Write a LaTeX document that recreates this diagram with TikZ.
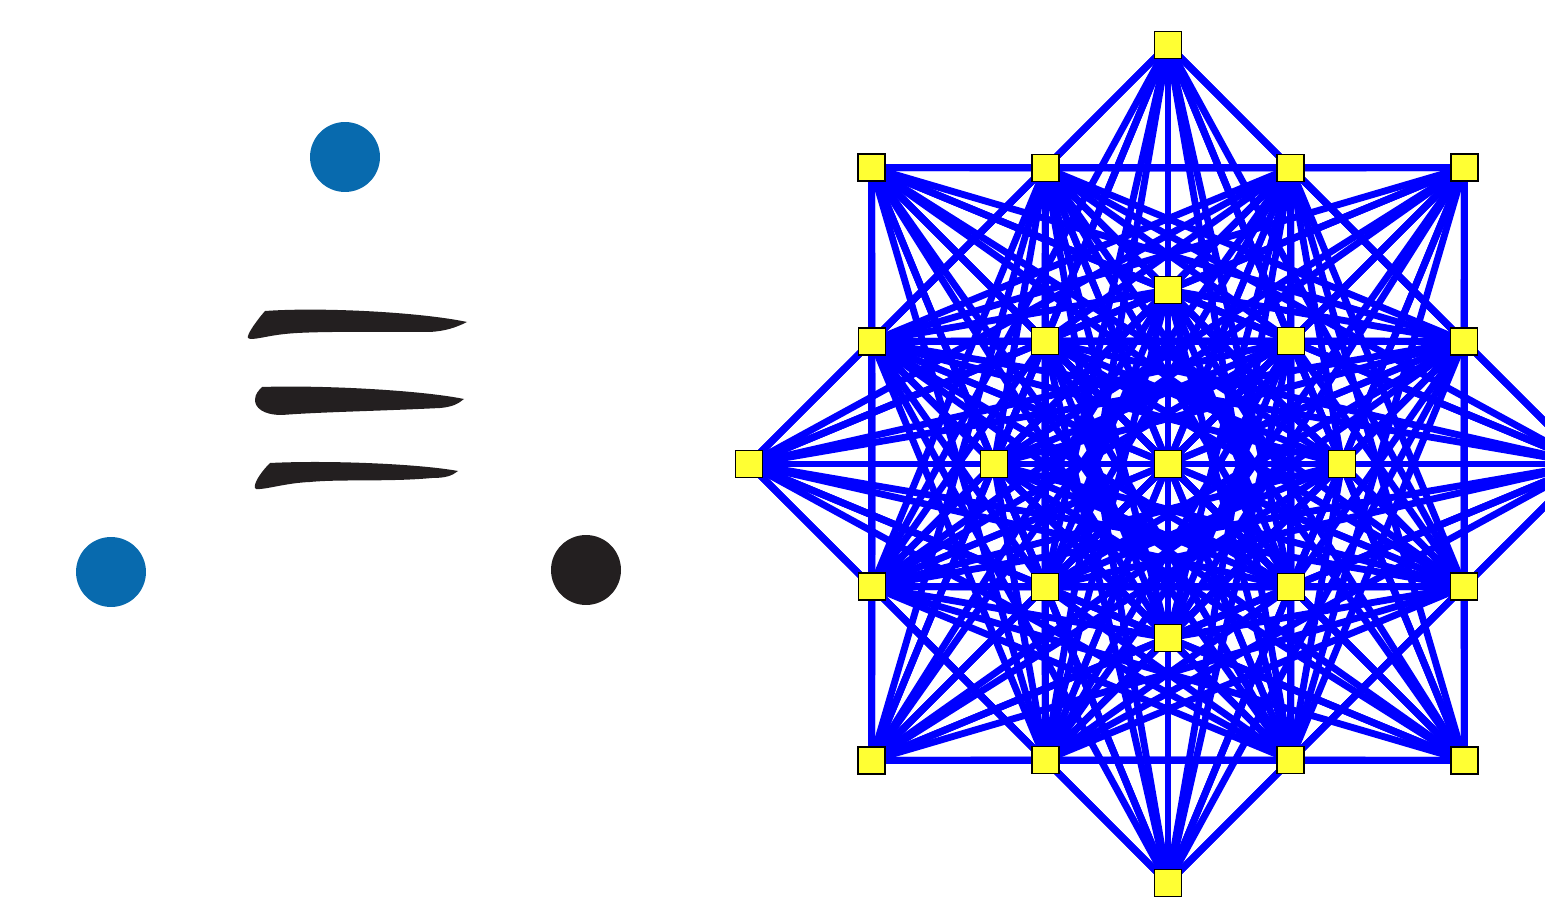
\documentclass[tikz,border=0pt]{standalone}
\usepackage{xcolor}
\usetikzlibrary{backgrounds}
\definecolor{dotblue}{RGB}{8,106,174}
\definecolor{inkblack}{RGB}{35,31,32}
\definecolor{vtxyellow}{RGB}{255,255,51}
\tikzset{
  vtx/.style={rectangle, draw=black, fill=vtxyellow, line width=1pt,
              minimum size=5.4mm, inner sep=0pt},
  link/.style={draw=blue, line width=3.9pt},
  spot/.style={circle, fill=#1, minimum size=14mm, inner sep=0pt},
  brush/.style={fill=inkblack},
}
\def\vlist{c,a0,a1,a2,a3,a4,a5,a6,a7,b0,b1,b2,b3,b4,b5,b6,b7,o0,o1,o2,o3,o4,o5,o6,o7}

\begin{document}
\begin{tikzpicture}[x=0.02cm, y=0.02cm]
  \useasboundingbox (0,0) rectangle (1545,897);
  % three dots
  \node[spot=dotblue]  (topdot)   at (345,740) {};
  \node[spot=dotblue]  (leftdot)  at (111,325) {};
  \node[spot=inkblack] (rightdot) at (586,327) {};
  % brush strokes
  \fill[brush] (265,586) .. controls (320,590) and (420,585) .. (467,575)
    .. controls (455,569) and (445,566) .. (430,565)
    .. controls (380,565) and (310,566) .. (285,563)
    .. controls (265,561) and (252,556) .. (248,559)
    .. controls (246,562) and (258,578) .. cycle;
  \fill[brush] (262,510) .. controls (320,512) and (420,507) .. (464,498)
    .. controls (458,493) and (452,490) .. (440,489)
    .. controls (380,486) and (320,485) .. (282,482)
    .. controls (262,482) and (255,490) .. (255,497)
    .. controls (255,503) and (259,507) .. cycle;
  \fill[brush] (270,434) .. controls (330,437) and (420,433) .. (458,426)
    .. controls (452,421) and (445,419) .. (432,419)
    .. controls (390,415) and (340,418) .. (310,415)
    .. controls (285,414) and (265,407) .. (256,408)
    .. controls (252,410) and (258,422) .. cycle;
  % graph vertices
  \node[vtx] (c) at (1168,433) {};
  \foreach \k in {0,...,7} {
    \node[vtx] (a\k) at ([shift={(45*\k:174)}]c.center) {};
    \node[vtx] (b\k) at ([shift={(22.5+45*\k:320.5)}]c.center) {};
    \node[vtx] (o\k) at ([shift={(45*\k:419)}]c.center) {};
  }
  % every pair joined, except neighbours on the outer ring
  \begin{pgfonlayer}{background}
    \foreach \u [count=\i] in \vlist {
      \foreach \w [count=\j] in \vlist {
        \ifnum\j>\i
          \pgfmathtruncatemacro\gap{\j-\i}
          \pgfmathtruncatemacro\rim{(\i>17)*((\gap==1)+(\gap==7))}
          \ifnum\rim=0 \draw[link] (\u.center) -- (\w.center); \fi
        \fi
      }
    }
  \end{pgfonlayer}
\end{tikzpicture}
\end{document}
